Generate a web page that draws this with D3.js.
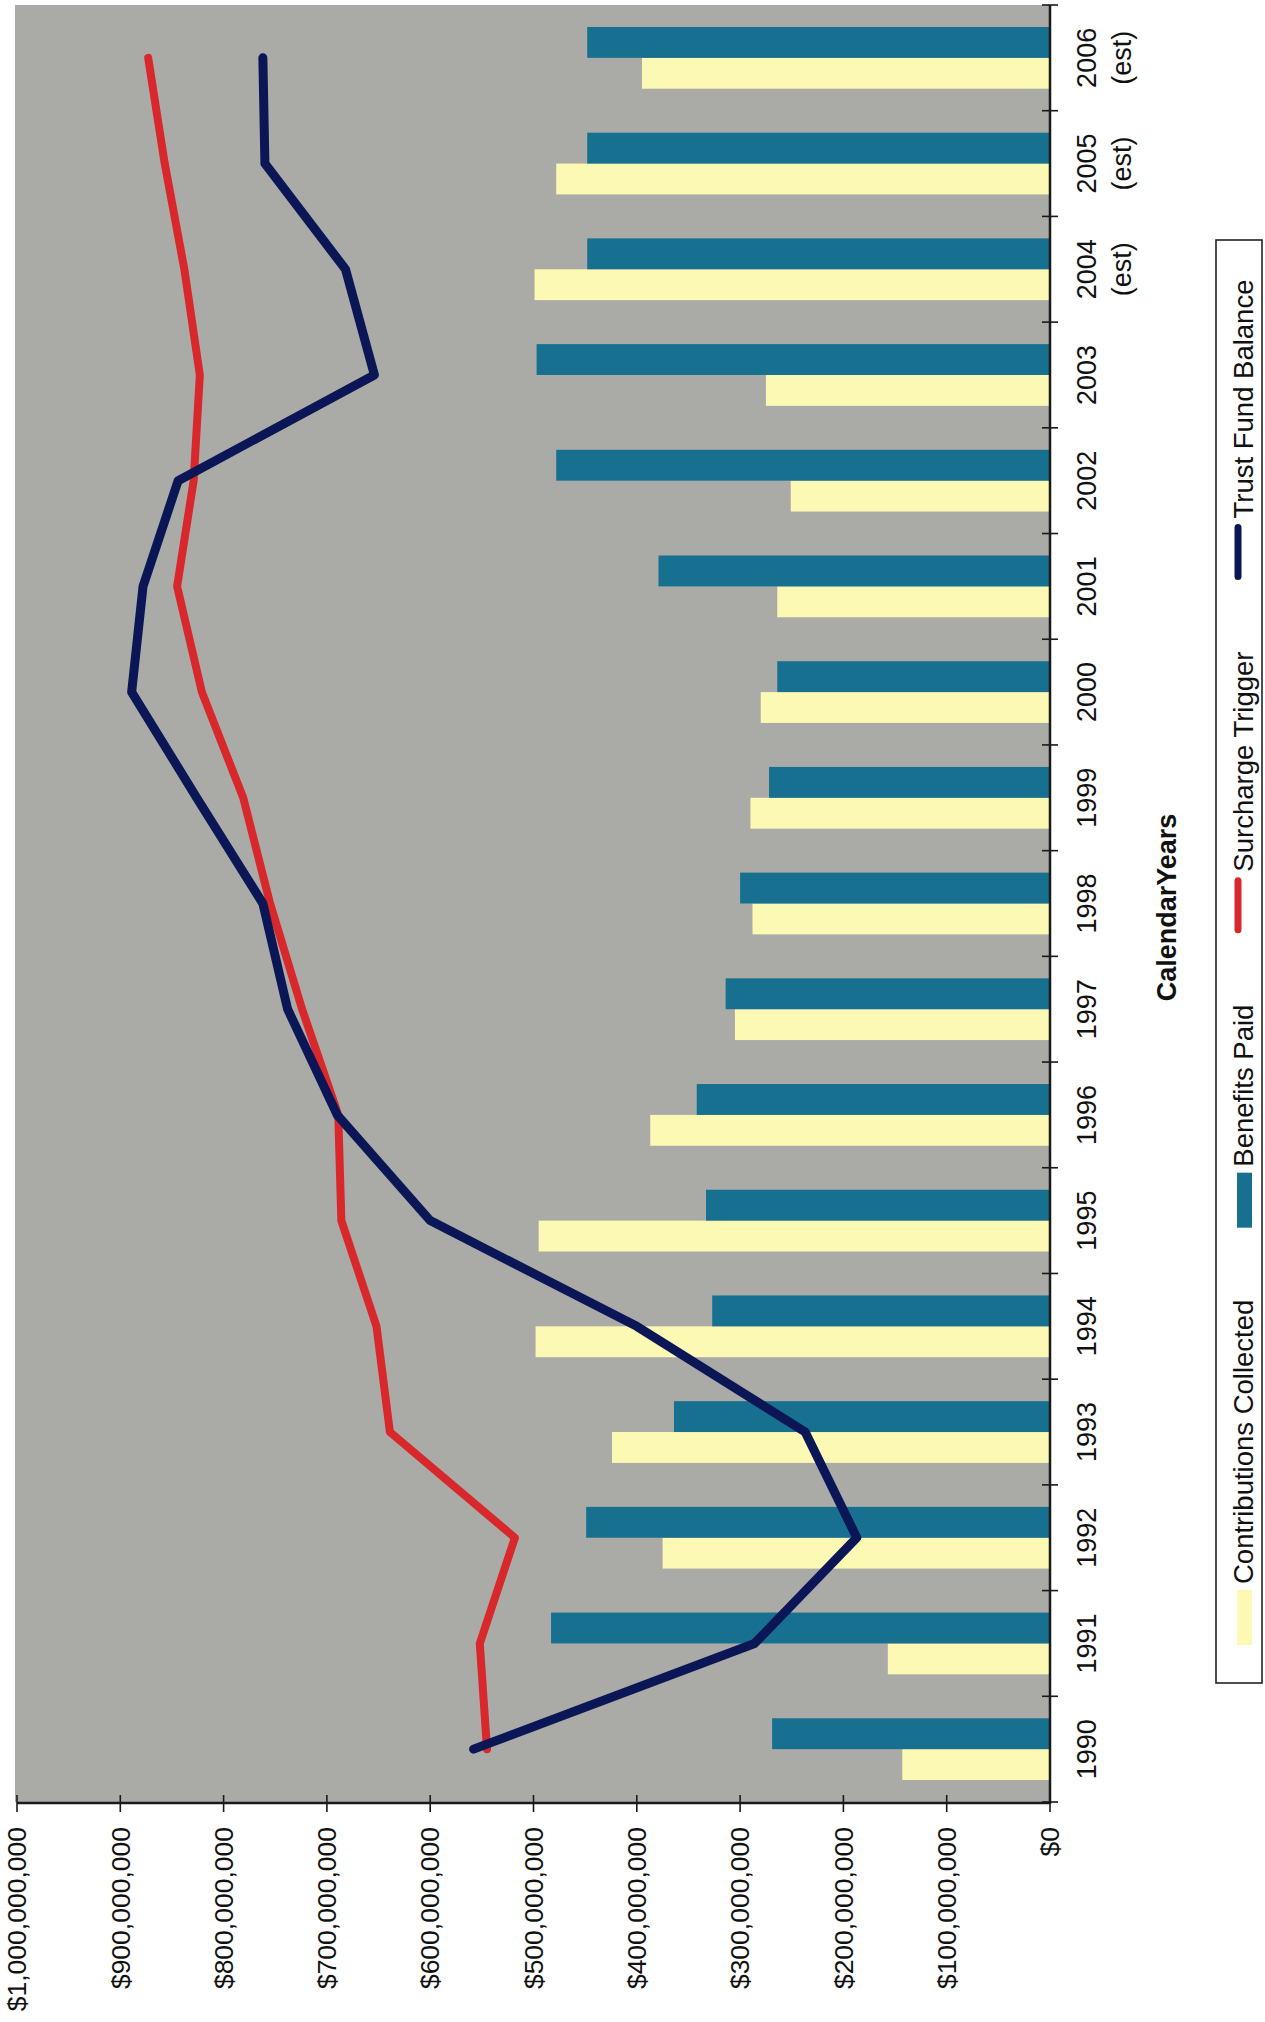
<!DOCTYPE html>
<html>
<head>
<meta charset="utf-8">
<script src="https://cdn.jsdelivr.net/npm/d3@7"></script>
<style>
  body { margin: 0; background: #ffffff; }
  svg { display: block; font-family: "Liberation Sans", Arial, Helvetica, sans-serif; }
</style>
</head>
<body>
<svg id="chart" width="1265" height="2022"></svg>
<script>
// Calendar years (categories); the last three are estimates
const years = ["1990","1991","1992","1993","1994","1995","1996","1997","1998",
               "1999","2000","2001","2002","2003","2004","2005","2006"];
const estimatedYears = ["2004","2005","2006"];

// Values in millions of dollars
const contributions = [143,157,375,424,498,495,387,305,288,290,280,264,251,275,499,478,395];
const benefits      = [269,483,449,364,327,333,342,314,300,272,264,379,478,497,448,448,448];
const surcharge     = [545,552,518,639,652,686,689,724,755,781,821,845,829,823,838,857,873];
const balance       = [558,286,187,237,400,600,690,738,762,826,889,878,844,654,682,760,762];

const valueTicks = [0,100,200,300,400,500,600,700,800,900,1000];

const legendItems = [
  { name: "Contributions Collected", kind: "bar",  color: "#fcf9b4" },
  { name: "Benefits Paid",           kind: "bar",  color: "#17708f" },
  { name: "Surcharge Trigger",       kind: "line", color: "#d9282b" },
  { name: "Trust Fund Balance",      kind: "line", color: "#0b1657" }
];

const svg = d3.select("#chart");

// The chart is drawn turned a quarter turn: values run right-to-left,
// years run bottom-to-top.
const plot = { left: 17, right: 1050, top: 5, bottom: 1802 };

const x = d3.scaleLinear().domain([0, 1000]).range([plot.right, plot.left]);
const y = d3.scaleBand()
  .domain(years.slice().reverse())
  .range([plot.top, plot.bottom])
  .paddingInner(0.416)
  .paddingOuter(0.208);
const sub = d3.scaleBand().domain(["benefits", "contributions"]).range([0, y.bandwidth()]);

// plot background
svg.append("rect")
  .attr("x", plot.left - 2).attr("y", plot.top)
  .attr("width", plot.right - plot.left + 2).attr("height", plot.bottom - plot.top)
  .attr("fill", "#aaaba7");

// bars
const barGroup = svg.append("g");
barGroup.selectAll("rect.contrib").data(years).join("rect")
  .attr("class", "contrib")
  .attr("x", (d, i) => x(contributions[i]))
  .attr("y", d => y(d) + sub("contributions"))
  .attr("width", (d, i) => x(0) - x(contributions[i]))
  .attr("height", sub.bandwidth())
  .attr("fill", legendItems[0].color);
barGroup.selectAll("rect.benefit").data(years).join("rect")
  .attr("class", "benefit")
  .attr("x", (d, i) => x(benefits[i]))
  .attr("y", d => y(d) + sub("benefits"))
  .attr("width", (d, i) => x(0) - x(benefits[i]))
  .attr("height", sub.bandwidth())
  .attr("fill", legendItems[1].color);

// lines
const line = d3.line()
  .x(d => x(d))
  .y((d, i) => y(years[i]) + y.bandwidth() / 2);
svg.append("path").datum(surcharge)
  .attr("d", line).attr("fill", "none")
  .attr("stroke", legendItems[2].color).attr("stroke-width", 8)
  .attr("stroke-linejoin", "round").attr("stroke-linecap", "round");
svg.append("path").datum(balance)
  .attr("d", line).attr("fill", "none")
  .attr("stroke", legendItems[3].color).attr("stroke-width", 9)
  .attr("stroke-linejoin", "round").attr("stroke-linecap", "round");

// value axis (along the bottom)
const axisColor = "#1a1a1a";
const valueAxis = svg.append("g").attr("transform", `translate(0,${plot.bottom + 1})`);
valueAxis.append("line")
  .attr("x1", x(1000)).attr("x2", x(0))
  .attr("stroke", axisColor).attr("stroke-width", 2.5);
valueAxis.selectAll("line.tick").data(valueTicks).join("line")
  .attr("class", "tick")
  .attr("x1", d => x(d)).attr("x2", d => x(d))
  .attr("y1", -8).attr("y2", 9)
  .attr("stroke", axisColor).attr("stroke-width", 1.6);
const money = d3.format(",");
valueAxis.selectAll("text").data(valueTicks).join("text")
  .attr("transform", d => `translate(${x(d)},24) rotate(-90)`)
  .attr("text-anchor", "end")
  .attr("dy", "0.35em")
  .attr("font-size", 26.5)
  .attr("fill", "#111")
  .text(d => "$" + money(d * 1e6));

// category axis (along the right side)
const catAxis = svg.append("g").attr("transform", `translate(${plot.right},0)`);
catAxis.append("line")
  .attr("y1", plot.top).attr("y2", plot.bottom + 2)
  .attr("stroke", axisColor).attr("stroke-width", 2.5);
const gap = y.step() * y.paddingInner() / 2;
const boundaries = years.map(d => y(d) - gap).concat([y(years[0]) + y.bandwidth() + gap]);
catAxis.selectAll("line.tick").data(boundaries).join("line")
  .attr("class", "tick")
  .attr("y1", d => d).attr("y2", d => d)
  .attr("x1", -8).attr("x2", 8)
  .attr("stroke", axisColor).attr("stroke-width", 1.6);
const yearLabels = catAxis.selectAll("g.year").data(years).join("g")
  .attr("class", "year")
  .attr("font-size", 27)
  .attr("fill", "#111");
yearLabels.append("text")
  .attr("transform", d => `translate(37,${y(d) + y.bandwidth() / 2}) rotate(-90)`)
  .attr("text-anchor", "middle").attr("dy", "0.35em")
  .text(d => d);
yearLabels.filter(d => estimatedYears.includes(d)).append("text")
  .attr("transform", d => `translate(72,${y(d) + y.bandwidth() / 2}) rotate(-90)`)
  .attr("text-anchor", "middle").attr("dy", "0.35em")
  .text("(est)");

// axis title
svg.append("text")
  .attr("transform", `translate(1167,${(plot.top + plot.bottom) / 2 + 4}) rotate(-90)`)
  .attr("text-anchor", "middle").attr("dy", "0.35em")
  .attr("font-size", 27).attr("font-weight", "bold").attr("fill", "#111")
  .text("CalendarYears");

// legend
const legend = svg.append("g");
const legendBox = { x: 1216, y: 240, w: 46, h: 1443 };
legend.append("rect")
  .attr("x", legendBox.x).attr("y", legendBox.y)
  .attr("width", legendBox.w).attr("height", legendBox.h)
  .attr("fill", "#fff").attr("stroke", "#222").attr("stroke-width", 1.6);

const swatchLen = 55, swatchGap = 6, itemGap = 72;
let cursor = 1645;
legendItems.forEach(item => {
  if (item.kind === "bar") {
    legend.append("rect")
      .attr("x", 1237).attr("y", cursor - swatchLen)
      .attr("width", 15).attr("height", swatchLen)
      .attr("fill", item.color);
  } else {
    legend.append("line")
      .attr("x1", 1238).attr("x2", 1238)
      .attr("y1", cursor - 3).attr("y2", cursor - swatchLen + 3)
      .attr("stroke", item.color).attr("stroke-width", 7)
      .attr("stroke-linecap", "round");
  }
  const textStart = cursor - swatchLen - swatchGap;
  const t = legend.append("text")
    .attr("transform", `translate(1243,${textStart}) rotate(-90)`)
    .attr("dy", "0.35em")
    .attr("font-size", 27.5).attr("fill", "#111")
    .text(item.name);
  cursor = textStart - t.node().getComputedTextLength() - itemGap;
});
</script>
</body>
</html>
